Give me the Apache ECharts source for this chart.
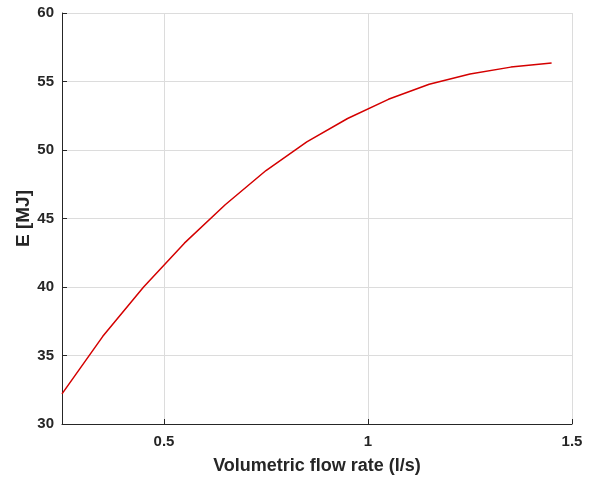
<!DOCTYPE html>
<html>
<head>
<meta charset="utf-8">
<script src="https://cdn.jsdelivr.net/npm/echarts@6/dist/echarts.min.js"></script>
<style>
  html, body { margin: 0; padding: 0; background: #fff; }
  #main { width: 597px; height: 479px; }
</style>
</head>
<body>
<div id="main"></div>
<script>
var flowRate = [0.25, 0.35, 0.45, 0.55, 0.65, 0.75, 0.85, 0.95, 1.05, 1.15, 1.25, 1.35, 1.45];
var energy = [32.2, 36.4, 40.0, 43.2, 46.0, 48.5, 50.6, 52.3, 53.7, 54.8, 55.55, 56.05, 56.35];

var myChart = echarts.init(document.getElementById('main'));
var textColor = '#262626';
var fontName = '"Liberation Sans", Arial, sans-serif';

option = {
    animation: false,
    grid: {
        left: 62,
        right: 25,
        top: 13,
        bottom: 55,
        outerBoundsMode: 'none',
        containLabel: false
    },
    xAxis: {
        type: 'value',
        min: 0.25,
        max: 1.5,
        splitNumber: 2,
        name: 'Volumetric flow rate (l/s)',
        nameLocation: 'middle',
        nameGap: 33,
        nameMoveOverlap: false,
        nameTextStyle: { color: textColor, fontSize: 18, fontWeight: 'bold', fontFamily: fontName },
        axisLine: { lineStyle: { color: textColor, width: 1 } },
        axisTick: { inside: true, length: 5, lineStyle: { color: textColor } },
        axisLabel: {
            showMinLabel: false,
            color: textColor, fontSize: 15, fontWeight: 'bold', fontFamily: fontName, margin: 10
        },
        splitLine: { show: true, lineStyle: { color: '#dcdcdc', width: 1 } }
    },
    yAxis: {
        type: 'value',
        min: 30,
        max: 60,
        interval: 5,
        name: 'E [MJ]',
        nameLocation: 'middle',
        nameGap: 29,
        nameMoveOverlap: false,
        nameTextStyle: { color: textColor, fontSize: 19, fontWeight: 'bold', fontFamily: fontName },
        axisLine: { show: true, lineStyle: { color: textColor, width: 1 } },
        axisTick: { show: true, inside: true, length: 5, lineStyle: { color: textColor } },
        axisLabel: { color: textColor, fontSize: 15, fontWeight: 'bold', fontFamily: fontName, margin: 8 },
        splitLine: { show: true, lineStyle: { color: '#dcdcdc', width: 1 } }
    },
    series: [{
        type: 'line',
        data: flowRate.map(function (x, i) { return [x, energy[i]]; }),
        showSymbol: false,
        lineStyle: { color: '#d40000', width: 1.5 }
    }]
};

myChart.setOption(option);
</script>
</body>
</html>
